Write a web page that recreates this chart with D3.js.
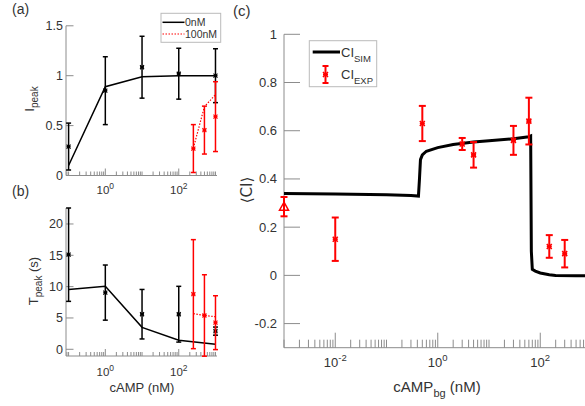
<!DOCTYPE html>
<html>
<head>
<meta charset="utf-8">
<script src="https://d3js.org/d3.v7.min.js"></script>
<style>
  body { margin: 0; background: #fff; }
  text { font-family: "Liberation Sans", Arial, Helvetica, sans-serif; fill: #333; }
</style>
</head>
<body>
<script>
// ---- data ----
// panel (a) / (b): cAMP pulse concentrations
const concA = [0.1, 1, 10, 100, 1000];
const concB = [250, 500, 1000];

const ipeakSim0 = [0.1, 0.89, 0.99, 1.0, 1.0];
const ipeakExp0 = [0.29, 0.85, 1.085, 1.02, 1.0];
const ipeakErr0 = [0.235, 0.34, 0.31, 0.255, 0.27];
const ipeakSim100 = [0.275, 0.69, 0.81];
const ipeakExp100 = [0.27, 0.455, 0.59];
const ipeakErr100 = [0.24, 0.24, 0.35];

const tpeakSim0 = [9.55, 10.05, 3.5, 1.45, 0.8];
const tpeakExp0 = [15.1, 9.05, 5.6, 5.6, 2.9];
const tpeakErr0 = [7.45, 4.4, 3.95, 4.45, 0.65];
const tpeakSim100 = [5.7, 5.4, 5.2];
const tpeakExp100 = [8.8, 5.4, 4.25];
const tpeakErr100 = [8.7, 6.5, 4.3];

// panel (c): chemotactic index vs background cAMP
const ciSimX = [0.001, 0.01, 0.1, 0.3, 0.42, 0.44, 0.46, 0.5, 0.6, 1, 2, 5, 10, 30, 60, 65, 67, 70, 80, 100, 150, 200, 500, 1000];
const ciSimY = [0.340, 0.338, 0.334, 0.331, 0.329, 0.40, 0.48, 0.50, 0.515, 0.530, 0.543, 0.553, 0.558, 0.567, 0.575, 0.578, 0.10, 0.025, 0.018, 0.01, 0.003, 0.0, -0.002, -0.002];
const ciExpX = [0.01, 0.5, 3, 5, 30, 60, 150, 300];
const ciExpY = [0.15, 0.63, 0.545, 0.50, 0.56, 0.64, 0.12, 0.09];
const ciExpErr = [0.09, 0.073, 0.025, 0.053, 0.06, 0.097, 0.047, 0.057];
const ciCtrlX = [0.001];
const ciCtrlY = [0.285];
const ciCtrlErr = [0.04];

const yTicksA = [0, 0.5, 1, 1.5];
const yTicksB = [0, 5, 10, 15, 20];
const yTicksC = [-0.2, 0, 0.2, 0.4, 0.6, 0.8, 1];

const svg = d3.select("body").append("svg")
    .attr("width", 585).attr("height", 406);

const axisColor = "#8c8c8c";

// scales
const xA = d3.scaleLog().domain([0.085, 1100]).range([66, 217]);
const yA = d3.scaleLinear().domain([0, 1.5]).range([175.5, 25.8]);
const xB = d3.scaleLog().domain([0.085, 1100]).range([66, 217]);
const yB = d3.scaleLinear().domain([-1.07, 22.55]).range([356, 208]);
const xC = d3.scaleLog().domain([1e-3, 1e3]).range([284, 591.5]);
const yC = d3.scaleLinear().domain([-0.3, 1]).range([347.7, 34.3]);

function leftAxis(x0, y, ticks, len, fs, gap) {
  const g = svg.append("g");
  g.append("line").attr("x1", x0).attr("x2", x0)
    .attr("y1", y.range()[0]).attr("y2", y.range()[1])
    .attr("stroke", axisColor);
  ticks.forEach(t => {
    g.append("line").attr("x1", x0).attr("x2", x0 + len)
      .attr("y1", y(t)).attr("y2", y(t)).attr("stroke", axisColor);
    g.append("text").attr("x", x0 - gap).attr("y", y(t)).attr("dy", "0.35em")
      .attr("text-anchor", "end").style("font-size", fs + "px")
      .text(t);
  });
}

function bottomAxis(x, y0, majLen, minLen, fs, supFs, labelDy) {
  const g = svg.append("g");
  g.append("line").attr("x1", x.range()[0]).attr("x2", x.range()[1])
    .attr("y1", y0).attr("y2", y0).attr("stroke", axisColor);
  x.ticks().forEach(t => {
    const e = Math.log10(t);
    const isPow = Math.abs(e - Math.round(e)) < 1e-9;
    const major = isPow && Math.round(e) % 2 === 0;
    g.append("line").attr("x1", x(t)).attr("x2", x(t))
      .attr("y1", y0).attr("y2", y0 - (major ? majLen : minLen))
      .attr("stroke", axisColor);
    if (major) {
      const lab = g.append("text").attr("x", x(t)).attr("y", y0 + labelDy)
        .attr("text-anchor", "middle").style("font-size", fs + "px");
      lab.append("tspan").text("10");
      lab.append("tspan").attr("dy", -fs * 0.45).style("font-size", supFs + "px")
        .text(Math.round(e));
    }
  });
}

function drawLine(x, y, xs, ys, color, width, dash) {
  svg.append("path")
    .datum(xs.map((d, i) => [d, ys[i]]))
    .attr("fill", "none").attr("stroke", color)
    .attr("stroke-width", width)
    .attr("stroke-dasharray", dash || null)
    .attr("d", d3.line().x(d => x(d[0])).y(d => y(d[1])));
}

function errorBars(x, y, xs, ys, es, color, width, cap, mark) {
  const g = svg.append("g").attr("stroke", color).attr("stroke-width", width).attr("fill", "none");
  xs.forEach((d, i) => {
    const cx = x(d), lo = y(ys[i] - es[i]), hi = y(ys[i] + es[i]), cy = y(ys[i]);
    g.append("line").attr("x1", cx).attr("x2", cx).attr("y1", lo).attr("y2", hi);
    g.append("line").attr("x1", cx - cap).attr("x2", cx + cap).attr("y1", lo).attr("y2", lo);
    g.append("line").attr("x1", cx - cap).attr("x2", cx + cap).attr("y1", hi).attr("y2", hi);
    g.append("path").attr("stroke-width", width * 0.8)
      .attr("d", `M${cx - mark},${cy - mark}L${cx + mark},${cy + mark}M${cx - mark},${cy + mark}L${cx + mark},${cy - mark}M${cx - mark},${cy}L${cx + mark},${cy}`);
  });
}

// ---------- panel (a) ----------
leftAxis(66, yA, yTicksA, 7.5, 12.5, 3);
bottomAxis(xA, 175.5, 7, 4, 11.5, 8.5, 18.5);
errorBars(xA, yA, concA, ipeakExp0, ipeakErr0, "#000", 1.5, 2.5, 2);
drawLine(xA, yA, concA, ipeakSim0, "#000", 1.5);
errorBars(xA, yA, concB, ipeakExp100, ipeakErr100, "#ff0000", 1.5, 2.5, 2);
drawLine(xA, yA, concB, ipeakSim100, "#ff0000", 1.2, "1.5,1.5");

svg.append("text").attr("x", 12).attr("y", 14).style("font-size", "14px").text("(a)");
const ilab = svg.append("text").attr("transform", "translate(34,99) rotate(-90)")
  .attr("text-anchor", "middle").style("font-size", "13px");
ilab.append("tspan").text("I");
ilab.append("tspan").attr("dy", 4).style("font-size", "10px").text("peak");

// legend (a)
const legA = svg.append("g");
legA.append("rect").attr("x", 161).attr("y", 13.3).attr("width", 59.7).attr("height", 29)
  .attr("fill", "#fff").attr("stroke", "#bbb");
legA.append("line").attr("x1", 162.5).attr("x2", 184.5).attr("y1", 22.3).attr("y2", 22.3)
  .attr("stroke", "#000").attr("stroke-width", 1.5);
legA.append("text").attr("x", 185).attr("y", 22.3).attr("dy", "0.35em").style("font-size", "10.5px").text("0nM");
legA.append("line").attr("x1", 162.5).attr("x2", 184.5).attr("y1", 34).attr("y2", 34)
  .attr("stroke", "#ff0000").attr("stroke-width", 1.2).attr("stroke-dasharray", "1.5,1.5");
legA.append("text").attr("x", 185).attr("y", 34).attr("dy", "0.35em").style("font-size", "10.5px").text("100nM");

// ---------- panel (b) ----------
leftAxis(66, yB, yTicksB, 7.5, 12.5, 3);
bottomAxis(xB, 356, 7, 4, 11.5, 8.5, 20);
errorBars(xB, yB, concA, tpeakExp0, tpeakErr0, "#000", 1.5, 2.5, 2);
drawLine(xB, yB, concA, tpeakSim0, "#000", 1.5);
errorBars(xB, yB, concB, tpeakExp100, tpeakErr100, "#ff0000", 1.5, 2.5, 2);
drawLine(xB, yB, concB, tpeakSim100, "#ff0000", 1.2, "1.5,1.5");

svg.append("text").attr("x", 12).attr("y", 196).style("font-size", "14px").text("(b)");
const tlab = svg.append("text").attr("transform", "translate(38,281) rotate(-90)")
  .attr("text-anchor", "middle").style("font-size", "13px");
tlab.append("tspan").text("T");
tlab.append("tspan").attr("dy", 4).style("font-size", "10px").text("peak");
tlab.append("tspan").attr("dy", -4).text(" (s)");
svg.append("text").attr("x", 142).attr("y", 392).attr("text-anchor", "middle")
  .style("font-size", "13px").text("cAMP (nM)");

// ---------- panel (c) ----------
leftAxis(284, yC, yTicksC, 16, 13, 7);
bottomAxis(xC, 347.7, 15, 8, 13, 9.5, 19);
drawLine(xC, yC, ciSimX, ciSimY, "#000", 3);
errorBars(xC, yC, ciExpX, ciExpY, ciExpErr, "#ff0000", 2, 3.5, 2.5);

// control point: open triangle with error bar
const ctrl = svg.append("g").attr("stroke", "#ff0000").attr("stroke-width", 2).attr("fill", "none");
ciCtrlX.forEach((d, i) => {
  const cx = xC(d), cy = yC(ciCtrlY[i]), lo = yC(ciCtrlY[i] - ciCtrlErr[i]), hi = yC(ciCtrlY[i] + ciCtrlErr[i]);
  ctrl.append("line").attr("x1", cx).attr("x2", cx).attr("y1", lo).attr("y2", hi);
  ctrl.append("line").attr("x1", cx - 3.5).attr("x2", cx + 3.5).attr("y1", lo).attr("y2", lo);
  ctrl.append("line").attr("x1", cx - 3.5).attr("x2", cx + 3.5).attr("y1", hi).attr("y2", hi);
  ctrl.append("path").attr("stroke-width", 1.5)
    .attr("d", `M${cx},${cy - 4.5}L${cx + 4.5},${cy + 3.5}L${cx - 4.5},${cy + 3.5}Z`);
});

svg.append("text").attr("x", 233).attr("y", 16).style("font-size", "15px").text("(c)");
svg.append("text").attr("transform", "translate(252,190) rotate(-90)")
  .attr("text-anchor", "middle").style("font-size", "15px")
  .style("font-family", "'DejaVu Sans', sans-serif").text("\u27E8CI\u27E9");
const clab = svg.append("text").attr("x", 437).attr("y", 391.5).attr("text-anchor", "middle")
  .style("font-size", "15px");
clab.append("tspan").text("cAMP");
clab.append("tspan").attr("dy", 5).style("font-size", "11px").text("bg");
clab.append("tspan").attr("dy", -5).text(" (nM)");

// legend (c)
const legC = svg.append("g");
legC.append("rect").attr("x", 309.3).attr("y", 40.7).attr("width", 67.4).attr("height", 46)
  .attr("fill", "#fff").attr("stroke", "#bbb");
legC.append("line").attr("x1", 312.7).attr("x2", 340).attr("y1", 52).attr("y2", 52)
  .attr("stroke", "#000").attr("stroke-width", 3);
const l1 = legC.append("text").attr("x", 341).attr("y", 56.5).style("font-size", "13px");
l1.append("tspan").text("CI");
l1.append("tspan").attr("dy", 5).style("font-size", "9.5px").text("SIM");
const lg = legC.append("g").attr("stroke", "#ff0000").attr("stroke-width", 2);
lg.append("line").attr("x1", 325.5).attr("x2", 325.5).attr("y1", 66).attr("y2", 83);
lg.append("line").attr("x1", 322.5).attr("x2", 328.5).attr("y1", 66).attr("y2", 66);
lg.append("line").attr("x1", 322.5).attr("x2", 328.5).attr("y1", 83).attr("y2", 83);
lg.append("path").attr("stroke-width", 1.6).attr("d", "M323,72L328,77M323,77L328,72M323,74.5L328,74.5");
const l2 = legC.append("text").attr("x", 341).attr("y", 78.5).style("font-size", "13px");
l2.append("tspan").text("CI");
l2.append("tspan").attr("dy", 5).style("font-size", "9.5px").text("EXP");
</script>
</body>
</html>
